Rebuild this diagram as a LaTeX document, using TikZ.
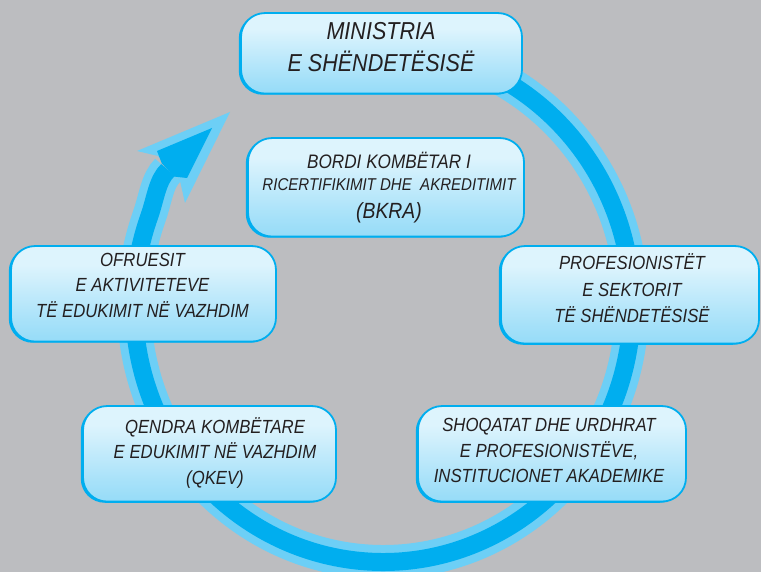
\documentclass[tikz,border=0pt]{standalone}
\usepackage{fontspec}
\newfontfamily\boxfont[FakeStretch=0.88]{Liberation Sans}
\definecolor{bg}{HTML}{BCBDC0}
\definecolor{ringdark}{HTML}{00AEEF}
\definecolor{ringlight}{HTML}{6DCFF6}
\definecolor{inktext}{HTML}{231F20}
\definecolor{shA}{HTML}{5CC8F2}
\definecolor{shB}{HTML}{A6E1F9}
\definecolor{shC}{HTML}{DDF4FD}
\definecolor{shD}{HTML}{C3EBFB}
\pgfdeclareverticalshading{boxshade}{100bp}{color(0bp)=(shA); color(10bp)=(shA!55!shB); color(35bp)=(shB); color(65bp)=(shC); color(88bp)=(shC); color(100bp)=(shD)}
\tikzset{
  box/.style={shape=rectangle, rounded corners=24pt, shade, shading=boxshade,
    draw=ringdark, line width=1.8pt, inner sep=0pt,
    preaction={fill=ringdark, transform canvas={xshift=-2.2pt, yshift=-1.2pt}}},
  txt/.style={align=center, inner sep=0pt, text=inktext},
  bodyfont/.style={font=\boxfont\itshape\fontsize{19}{25.5}\selectfont},
  ringouter/.style={ringlight, line width=34pt},
  ringinner/.style={ringdark, line width=18pt},
}
\begin{document}
\begin{tikzpicture}[x=1pt, y=-1pt]
  \fill[bg] (0,0) rectangle (761,572);
  \useasboundingbox (0,0) rectangle (761,572);

  % circular flow ring, ending in a swept arrowhead
  \coordinate (c) at (383,305);
  \coordinate (ringend) at (168,170);
  \foreach \st in {ringouter, ringinner}
    \draw[\st] ([shift={(-85:249 and 257)}]c)
      arc[start angle=-85, end angle=200, x radius=249, y radius=257]
      .. controls +(6.7,-18.9) and +(-10.9,10.3) .. (ringend);
  \fill[ringlight] (158,156) -- (137,151) -- (230,112) -- (185,203) -- (180,181) -- cycle;
  \fill[ringdark] (161.8,163.4) -- (157,151) -- (212,128) -- (187,178) -- (174.2,176.6) -- cycle;

  % boxes
  \node[box, minimum width=281pt, minimum height=80.5pt] (min) at (381.5,53.3) {};
  \node[box, minimum width=276pt, minimum height=98.5pt] (bkra) at (386,187.3) {};
  \node[box, minimum width=265pt, minimum height=95.5pt] (ofr) at (143.5,293.8) {};
  \node[box, minimum width=258pt, minimum height=97.5pt] (prof) at (630,294.8) {};
  \node[box, minimum width=253pt, minimum height=95.5pt] (qkev) at (209.5,453.8) {};
  \node[box, minimum width=268pt, minimum height=95.5pt] (shoq) at (552,453.8) {};

  % labels
  \node[txt, font=\boxfont\itshape\fontsize{24.5}{32}\selectfont] (mint) at (381,47)
    {MINISTRIA\\E SHËNDETËSISË};
  \node[txt, font=\boxfont\itshape\fontsize{19.5}{22}\selectfont] (bkrat) at (389,187.5)
    {BORDI KOMBËTAR I\\{\fontsize{17.1}{22}\selectfont RICERTIFIKIMIT DHE\ \ AKREDITIMIT}\\[6pt]{\fontsize{22}{22}\selectfont (BKRA)}};
  \node[txt, bodyfont] (ofrt) at (142.5,285)
    {OFRUESIT\\E AKTIVITETEVE\\TË EDUKIMIT NË VAZHDIM};
  \node[txt, font=\boxfont\itshape\fontsize{19}{26.5}\selectfont] (proft) at (632,288.6)
    {PROFESIONISTËT\\E SEKTORIT\\TË SHËNDETËSISË};
  \node[txt, bodyfont] (qkevt) at (215,452.6)
    {QENDRA KOMBËTARE\\E EDUKIMIT NË VAZHDIM\\(QKEV)};
  \node[txt, bodyfont] (shoqt) at (549,450.6)
    {SHOQATAT DHE URDHRAT\\E PROFESIONISTËVE,\\INSTITUCIONET AKADEMIKE};
\end{tikzpicture}
\end{document}
